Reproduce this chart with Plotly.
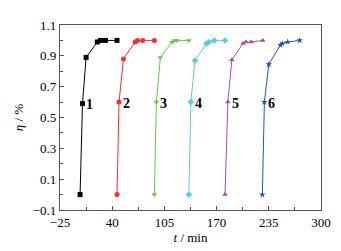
import plotly.graph_objects as go

labels = ["1", "2", "3", "4", "5", "6"]
t1 = [0, 3, 7.5, 21.5, 25.5, 31.5, 46]
e1 = [0, 0.59, 0.89, 0.99, 1.0, 1.0, 1.0]
t2 = [46, 48.5, 54, 68.5, 71.5, 78, 92.5]
e2 = [0, 0.60, 0.88, 0.99, 1.0, 1.0, 1.0]
t3 = [92.5, 95, 100, 114.5, 117.5, 120.5, 135.5]
e3 = [0, 0.60, 0.89, 0.99, 1.0, 1.0, 1.0]
t4 = [135.5, 138, 143, 157.5, 160.5, 167, 180.5]
e4 = [0, 0.60, 0.87, 0.98, 0.99, 1.0, 1.0]
t5 = [180.5, 184, 189, 203, 206.5, 213, 227.5]
e5 = [0, 0.60, 0.875, 0.98, 0.99, 0.99, 1.0]
t6 = [227, 229.5, 235, 249.5, 252, 258.5, 273.5]
e6 = [0, 0.60, 0.845, 0.97, 0.98, 0.99, 1.0]

times = [t1, t2, t3, t4, t5, t6]
etas = [e1, e2, e3, e4, e5, e6]
colors = ["#000000", "#ff2a2a", "#66cc33", "#55cfd6", "#a64ab8", "#2255b8"]
symbols = ["square", "circle", "triangle-down", "diamond", "triangle-up", "star"]

fig = go.Figure()
for i in range(6):
    fig.add_trace(go.Scatter(
        x=times[i], y=etas[i], mode="lines+markers",
        line=dict(color=colors[i], width=1),
        marker=dict(color=colors[i], symbol=symbols[i], size=5,
                    line=dict(width=0)),
        showlegend=False))
    fig.add_annotation(x=times[i][1], y=etas[i][1], text="<b>" + labels[i] + "</b>",
                       showarrow=False, xanchor="left", xshift=2, yshift=-1,
                       font=dict(family="Liberation Serif", size=14, color="black"))

# page body has an 8px margin, so the figure is sized to fit the 341x251 window
fig.update_layout(
    width=333, height=243,
    margin=dict(l=46, r=19, t=10, b=35),
    plot_bgcolor="white", paper_bgcolor="white",
    font=dict(family="Liberation Serif", size=13, color="black"),
)
fig.update_xaxes(
    range=[-25, 300], tick0=-25, dtick=65, ticks="inside", ticklen=4,
    tickcolor="#555", showline=True, linecolor="#555", linewidth=1.2, mirror=True,
    showgrid=False, zeroline=False,
    minor=dict(ticks="inside", dtick=32.5, tick0=-25, ticklen=3, tickcolor="#555"),
    title=dict(text="<i>t</i> / min", standoff=2, font=dict(size=13)),
)
fig.update_yaxes(
    range=[-0.1, 1.1], tick0=-0.1, dtick=0.2, ticks="inside", ticklen=4,
    tickcolor="#555", showline=True, linecolor="#555", linewidth=1.2, mirror=True,
    showgrid=False, zeroline=False, tickformat=".1f",
    minor=dict(ticks="inside", dtick=0.1, tick0=-0.1, ticklen=3, tickcolor="#555"),
    title=dict(text="<i>η</i> / %", standoff=6, font=dict(size=13)),
)
fig.write_html("out.html")
